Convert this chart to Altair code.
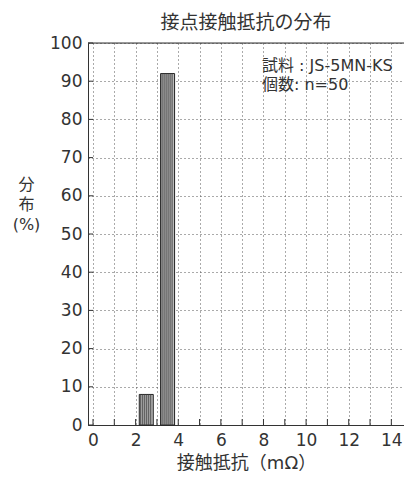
import altair as alt
import pandas as pd

# data
bin_centers = [2.5, 3.5]
percent = [8, 92]
x_ticks = list(range(0, 15))
y_ticks = list(range(0, 101, 10))
title_text = "接点接触抵抗の分布"
x_title = "接触抵抗（mΩ）"
y_title = ["分", "布", "(%)"]
note_lines = ["試料 : JS-5MN-KS", "個数: n=50"]

# style: hatch stripe offsets in pixels from bar centre
stripe_px = [-5.5, -3.5, -1.5, 0.5, 2.5, 4.5]

FONT = "DejaVu Sans, Noto Sans CJK JP"
W, H = 316, 382

bars_df = pd.DataFrame({"x": bin_centers, "y": percent})
stripes_df = bars_df.merge(pd.DataFrame({"off": stripe_px}), how="cross")
xt_df = pd.DataFrame({"x": x_ticks})
yt_df = pd.DataFrame({"y": y_ticks})
note_df = pd.DataFrame({"t": ["\n".join(note_lines)]})

xscale = alt.Scale(domain=[0, 14.36], nice=False, zero=False)
yscale = alt.Scale(domain=[0, 100], nice=False)

xaxis = alt.Axis(values=x_ticks, labelExpr="datum.value % 2 == 0 ? datum.label : ''",
                 grid=True, gridDash=[1, 3], gridColor="#555", gridWidth=1,
                 ticks=False, labelPadding=7, labelFontSize=17, labelFont=FONT,
                 labelColor="#333", domainColor="#333", title=x_title,
                 titleFont=FONT, titleFontSize=18, titleFontWeight="normal",
                 titleColor="#333", titlePadding=6, labelOverlap=False)
yaxis = alt.Axis(values=y_ticks, grid=True, gridDash=[1, 3], gridColor="#555",
                 gridWidth=1, ticks=False, labelPadding=6, labelFontSize=17,
                 labelFont=FONT, labelColor="#333", domainColor="#333",
                 labelOverlap=False,
                 title=y_title, titleAngle=0, titleAlign="center",
                 titleBaseline="top", titleX=-62, titleY=133, titleFont=FONT,
                 titleFontSize=16, titleFontWeight="normal", titleColor="#333",
                 titleLineHeight=20)

base_bars = alt.Chart(bars_df).mark_bar(width=14, fill="#bdbdbd", stroke="#222",
                                         strokeWidth=1).encode(
    x=alt.X("x:Q", scale=xscale, axis=xaxis),
    y=alt.Y("y:Q", scale=yscale, axis=yaxis),
)
stripes = alt.Chart(stripes_df).mark_rule(color="#444444", strokeWidth=1,
                                          xOffset=alt.ExprRef("datum.off")).encode(
    x=alt.X("x:Q", scale=xscale, axis=xaxis),
    y=alt.Y("y:Q", scale=yscale, axis=yaxis),
    y2=alt.datum(0),
)

xticks_layer = alt.Chart(xt_df).mark_rule(color="#333").encode(
    x=alt.X("x:Q", scale=xscale, axis=xaxis),
    y=alt.value(H), y2=alt.value(H - 6),
)
yticks_layer = alt.Chart(yt_df).mark_rule(color="#333").encode(
    y=alt.Y("y:Q", scale=yscale, axis=yaxis),
    x=alt.value(0), x2=alt.value(5),
)
top_border = alt.Chart(note_df).mark_rule(color="#333", strokeWidth=1).encode(
    x=alt.value(0), x2=alt.value(W), y=alt.value(0),
)
note_layer = alt.Chart(note_df).mark_text(align="left", baseline="middle",
                                           font=FONT, fontSize=16, color="#333",
                                           lineBreak="\n", lineHeight=19).encode(
    text="t:N",
    x=alt.value(174),
    y=alt.value(23),
)

chart = alt.layer(base_bars, stripes, xticks_layer, yticks_layer, top_border,
                  note_layer).properties(
    width=W, height=H,
    title=alt.TitleParams(title_text, font=FONT, fontSize=19, fontWeight="normal",
                          color="#333", anchor="middle", offset=1),
    autosize=alt.AutoSizeParams(type="none"),
    padding={"left": 80, "top": 35, "right": 0, "bottom": 46},
).configure_view(strokeWidth=0).configure(background="white")

chart.save("out.html", embed_options={"renderer": "svg", "actions": False})
